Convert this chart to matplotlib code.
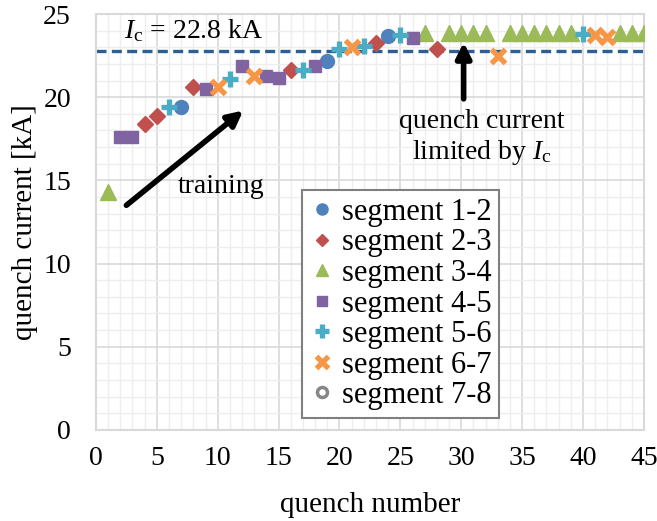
import matplotlib
matplotlib.use("Agg")
import matplotlib.pyplot as plt
from matplotlib.ticker import MultipleLocator

plt.rcParams['font.family'] = ['Liberation Serif', 'DejaVu Serif']
plt.rcParams['mathtext.fontset'] = 'custom'
plt.rcParams['mathtext.rm'] = 'Liberation Serif'
plt.rcParams['mathtext.it'] = 'Liberation Serif:italic'

# quench data per segment (quench number, current in kA)
seg12_x = [7, 19, 24]
seg12_y = [19.4, 22.2, 23.7]
seg23_x = [4, 5, 8, 16, 23, 28]
seg23_y = [18.4, 18.9, 20.6, 21.65, 23.25, 22.9]
seg34_x = [1, 27, 29, 30, 31, 32, 34, 35, 36, 37, 38, 39, 43, 44, 45]
seg34_y = [14.3, 23.85, 23.85, 23.85, 23.85, 23.85, 23.85, 23.85, 23.85, 23.85,
           23.85, 23.85, 23.85, 23.85, 23.85]
seg45_x = [2, 3, 9, 12, 14, 15, 18, 26]
seg45_y = [17.6, 17.6, 20.5, 21.85, 21.3, 21.15, 21.85, 23.55]
seg56_x = [6, 11, 17, 20, 22, 25, 40]
seg56_y = [19.4, 21.1, 21.65, 22.9, 23.1, 23.75, 23.8]
seg67_x = [10, 13, 21, 33, 41, 42]
seg67_y = [20.6, 21.3, 23.0, 22.45, 23.75, 23.65]
seg78_x = []
seg78_y = []

ic_value = 22.8

fig = plt.figure(figsize=(6.57, 5.21), dpi=100)
ax = fig.add_axes([0.146, 0.175, 0.834, 0.798])

grid_major = '#d9d9d9'
grid_minor = '#eeeeee'

ax.set_xlim(0, 45)
ax.set_ylim(0, 25)
ax.xaxis.set_major_locator(MultipleLocator(5))
ax.xaxis.set_minor_locator(MultipleLocator(1))
ax.yaxis.set_major_locator(MultipleLocator(5))
ax.yaxis.set_minor_locator(MultipleLocator(1))
ax.grid(which='major', color=grid_major, lw=1.2, zorder=0)
ax.grid(which='minor', color=grid_minor, lw=1.0, zorder=0)
ax.set_axisbelow(True)
ax.tick_params(which='both', length=0, labelsize=20)
ax.tick_params(axis='x', pad=12)
ax.tick_params(axis='y', pad=18)
for s in ax.spines.values():
    s.set_color(grid_major)
    s.set_linewidth(1.5)

ax.axhline(ic_value, color='#2a5f98', lw=2.4, ls=(0, (3, 1.6)), zorder=2)

ms = 9
ax.plot(seg12_x, seg12_y, 'o', color='#4f81bd', ms=ms + 1, ls='none', label='segment 1-2', zorder=3)
ax.plot(seg23_x, seg23_y, 'D', color='#c0504d', ms=ms - 1, ls='none', label='segment 2-3', zorder=3)
ax.plot(seg34_x, seg34_y, '^', color='#9bbb59', ms=ms + 2, ls='none', label='segment 3-4', zorder=3)
ax.plot(seg45_x, seg45_y, 's', color='#8064a2', ms=ms, ls='none', label='segment 4-5', zorder=3)
ax.plot(seg56_x, seg56_y, '+', color='#4bacc6', ms=ms + 3, mew=3.8, ls='none', label='segment 5-6', zorder=3)
ax.plot(seg67_x, seg67_y, 'x', color='#f79646', ms=ms + 1, mew=3.8, ls='none', label='segment 6-7', zorder=3)
ax.plot(seg78_x, seg78_y, 'o', mfc='white', mec='#868686', mew=2.5, ms=ms, ls='none', label='segment 7-8', zorder=3)

ax.set_xlabel('quench number', fontsize=21, va='center')
ax.set_ylabel('quench current [kA]', fontsize=21, va='center')
ax.xaxis.set_label_coords(0.5, -0.182)
ax.yaxis.set_label_coords(-0.13, 0.5)

ax.text(2.3, 24.0, r'$I_\mathrm{c}$ = 22.8 kA', fontsize=20, va='center', ha='left')

arrow = dict(arrowstyle='-|>,head_length=0.9,head_width=0.45', lw=4, color='black',
             shrinkA=0, shrinkB=0)
ax.annotate('', xy=(12.1, 19.2), xytext=(2.5, 13.5), arrowprops=arrow)
ax.text(10.3, 14.65, 'training', fontsize=20, ha='center', va='center')

ax.annotate('', xy=(30.2, 23.3), xytext=(30.2, 19.9), arrowprops=arrow)
ax.text(31.7, 17.55, 'quench current\nlimited by $I_\\mathrm{c}$', fontsize=20,
        ha='center', va='center', linespacing=1.15)

leg = ax.legend(loc='lower left', bbox_to_anchor=(0.377, 0.029), fontsize=22,
                frameon=True, fancybox=False, edgecolor='#808080', framealpha=1,
                handlelength=0.8, handletextpad=0.25, labelspacing=0.05,
                borderpad=0.25, borderaxespad=0, markerscale=0.8)
leg.get_frame().set_linewidth(1.5)

fig.savefig('out.png', dpi=100)
